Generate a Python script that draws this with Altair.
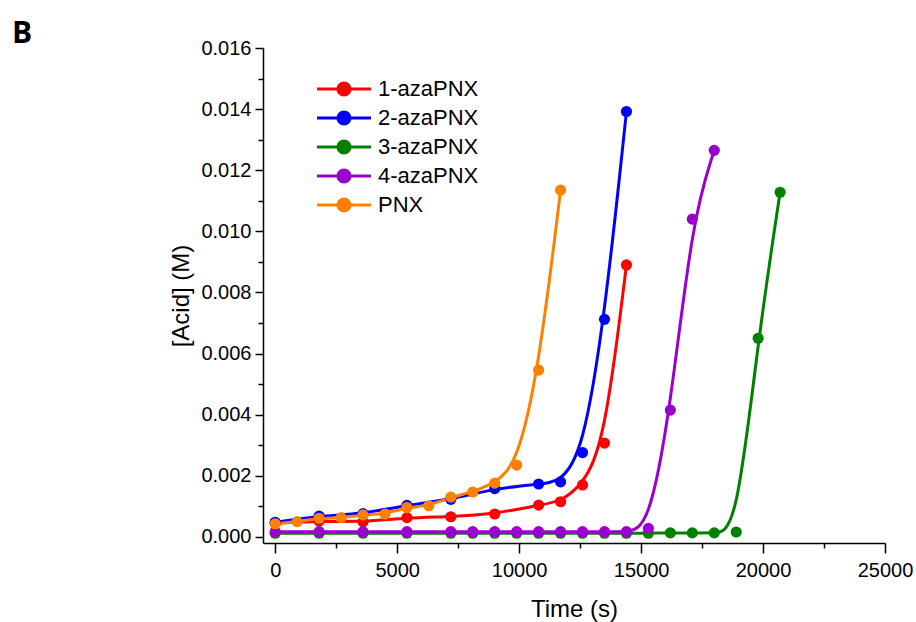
import altair as alt
import pandas as pd

# Acid build-up during degradation of each compound
series_names = ["1-azaPNX", "2-azaPNX", "3-azaPNX", "4-azaPNX", "PNX"]
series_colors = ["#ff0000", "#0000ff", "#008000", "#9a00cd", "#ff8000"]

t_1aza = [0, 1800, 3600, 5400, 7200, 9000, 10800, 11700, 12600, 13500, 14400]
c_1aza = [0.00045, 0.00052, 0.00049, 0.00063, 0.00066, 0.00075, 0.00104,
          0.00115, 0.00170, 0.00307, 0.00890]

t_2aza = [0, 1800, 3600, 5400, 7200, 9000, 10800, 11700, 12600, 13500, 14400]
c_2aza = [0.00048, 0.00068, 0.00076, 0.00103, 0.00123, 0.00158, 0.00173,
          0.00180, 0.00276, 0.00712, 0.01392]

t_3aza = [0, 1800, 3600, 5400, 7200, 8100, 9000, 9900, 10800, 11700, 12600,
          13500, 14400, 15300, 16200, 17100, 18000, 18900, 19800, 20700]
c_3aza = [0.00012, 0.00012, 0.00012, 0.00012, 0.00012, 0.00012, 0.00012,
          0.00012, 0.00012, 0.00012, 0.00012, 0.00012, 0.00012, 0.00012,
          0.00013, 0.00013, 0.00013, 0.00016, 0.00650, 0.01128]

t_4aza = [0, 1800, 3600, 5400, 7200, 8100, 9000, 9900, 10800, 11700, 12600,
          13500, 14400, 15300, 16200, 17100, 18000]
c_4aza = [0.00017, 0.00017, 0.00017, 0.00017, 0.00017, 0.00017, 0.00017,
          0.00017, 0.00017, 0.00017, 0.00017, 0.00017, 0.00017, 0.00028,
          0.00415, 0.01040, 0.01265]

t_pnx = [0, 900, 1800, 2700, 3600, 4500, 5400, 6300, 7200, 8100, 9000, 9900,
         10800, 11700]
c_pnx = [0.00043, 0.00050, 0.00061, 0.00063, 0.00072, 0.00075, 0.00096,
         0.00102, 0.00130, 0.00147, 0.00176, 0.00235, 0.00546, 0.01135]

x_major = [0, 5000, 10000, 15000, 20000, 25000]
x_minor = [2500, 7500, 12500, 17500, 22500]
y_major = [0.000, 0.002, 0.004, 0.006, 0.008, 0.010, 0.012, 0.014, 0.016]
y_minor = [0.001, 0.003, 0.005, 0.007, 0.009, 0.011, 0.013, 0.015]

frames = []
for name, ts, cs in zip(series_names,
                        [t_1aza, t_2aza, t_3aza, t_4aza, t_pnx],
                        [c_1aza, c_2aza, c_3aza, c_4aza, c_pnx]):
    frames.append(pd.DataFrame({"series": name, "time": ts, "acid": cs}))
data = pd.concat(frames, ignore_index=True)

FONT = "Liberation Sans"
x_scale = alt.Scale(domain=[-500, 25000], nice=False, zero=False)
y_scale = alt.Scale(domain=[-0.0002, 0.016], nice=False, zero=False)
series_order = alt.Scale(domain=series_names, range=series_colors)

# line + dot legend glyph
glyph = "M-2,0H2M0.45,0A0.45,0.45,0,1,1,-0.45,0A0.45,0.45,0,1,1,0.45,0Z"
legend = alt.Legend(
    title=None, orient="none", legendX=66, legendY=26,
    symbolType=glyph, symbolSize=729, symbolStrokeWidth=3,
    labelFont=FONT, labelFontSize=22, labelColor="black",
    labelOffset=19, rowPadding=1, padding=0, labelLimit=300,
)

axis_common = dict(domainColor="black", tickColor="black", domainWidth=1.5,
                   tickWidth=1.5, grid=False, labelColor="black",
                   labelFont=FONT, titleFont=FONT, titleColor="black",
                   titleFontWeight="normal")

x_axis = alt.Axis(orient="bottom", values=x_major, format="d", tickSize=10,
                  labelFontSize=20, labelPadding=7, title="Time (s)",
                  titleFontSize=24, titleY=54, labelFlush=False,
                  **axis_common)
y_axis = alt.Axis(orient="left", values=y_major, format=".3f", tickSize=8,
                  labelFontSize=20, labelPadding=4, title="[Acid] (M)",
                  titleFontSize=24, titlePadding=7, **axis_common)

x_axis_minor = alt.Axis(orient="bottom", values=x_minor, tickSize=5,
                        labels=False, domain=False, title=None, grid=False,
                        tickColor="black", tickWidth=1.5)
y_axis_minor = alt.Axis(orient="left", values=y_minor, tickSize=5,
                        labels=False, domain=False, title=None, grid=False,
                        tickColor="black", tickWidth=1.5)

base = alt.Chart(data)

curves = base.mark_line(interpolate="basis", strokeWidth=3).encode(
    x=alt.X("time:Q", scale=x_scale, axis=x_axis),
    y=alt.Y("acid:Q", scale=y_scale, axis=y_axis),
    stroke=alt.Stroke("series:N", scale=series_order, legend=legend,
                      sort=series_names),
)

dots = base.mark_circle(size=125, opacity=1).encode(
    x=alt.X("time:Q", scale=x_scale, axis=x_axis_minor),
    y=alt.Y("acid:Q", scale=y_scale, axis=y_axis_minor),
    fill=alt.Fill("series:N", scale=series_order, legend=legend,
                  sort=series_names),
)

chart = (
    alt.layer(curves, dots)
    .resolve_axis(x="independent", y="independent")
    .properties(
        width=622, height=495,
        autosize=alt.AutoSizeParams(type="none"),
        padding={"left": 263, "top": 48, "right": 31, "bottom": 79},
        background="white",
        title=alt.TitleParams("B", anchor="start", orient="top",
                              frame="group", font="Open Sans", fontSize=30,
                              fontWeight="bold", color="black",
                              dx=-251, dy=17, offset=6),
    )
    .configure_view(stroke=None)
)

chart.save("out.html", embed_options={"renderer": "svg", "actions": False})
